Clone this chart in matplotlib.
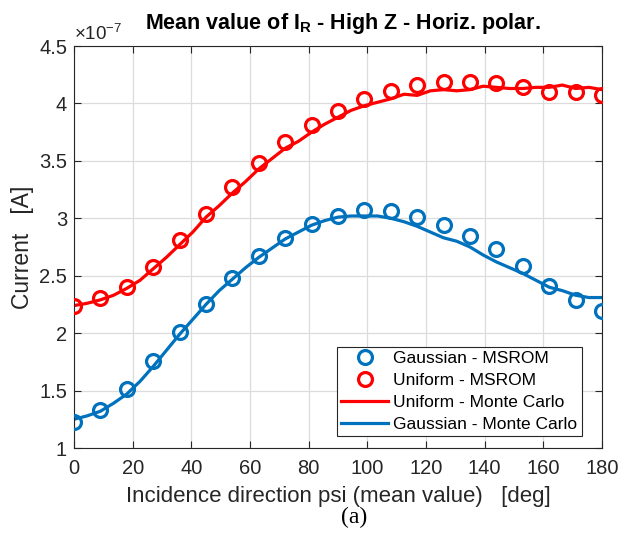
import numpy as np
import matplotlib
matplotlib.use("Agg")
import matplotlib.pyplot as plt
from matplotlib.ticker import FuncFormatter

# MSROM estimates, every 9 degrees
psi_msrom = np.arange(0, 181, 9)
gauss_msrom = np.array([1.23, 1.33, 1.51, 1.76, 2.01, 2.25, 2.48, 2.67, 2.83, 2.95, 3.02,
                        3.07, 3.06, 3.01, 2.94, 2.85, 2.73, 2.585, 2.41, 2.29, 2.19]) * 1e-7
unif_msrom = np.array([2.24, 2.31, 2.40, 2.58, 2.81, 3.04, 3.27, 3.48, 3.66, 3.81, 3.93,
                       4.04, 4.11, 4.16, 4.19, 4.19, 4.18, 4.14, 4.10, 4.10, 4.07]) * 1e-7

# Monte Carlo reference, every 4.5 degrees
psi_mc = np.arange(0, 180.1, 4.5)
unif_mc = np.array([2.24, 2.26, 2.29, 2.33, 2.39, 2.46, 2.56, 2.66, 2.77, 2.88, 3.01,
                    3.11, 3.22, 3.32, 3.43, 3.52, 3.61, 3.67, 3.75, 3.82, 3.88,
                    3.94, 3.98, 4.01, 4.04, 4.08, 4.07, 4.11, 4.12, 4.11, 4.12,
                    4.15, 4.14, 4.13, 4.13, 4.14, 4.14, 4.16, 4.13, 4.14, 4.12]) * 1e-7
gauss_mc = np.array([1.25, 1.28, 1.32, 1.39, 1.47, 1.58, 1.71, 1.85, 1.99, 2.12, 2.25,
                     2.37, 2.47, 2.57, 2.66, 2.74, 2.82, 2.88, 2.94, 2.98, 3.01,
                     3.02, 3.02, 3.02, 3.00, 2.97, 2.93, 2.88, 2.83, 2.80, 2.75,
                     2.68, 2.62, 2.57, 2.52, 2.46, 2.40, 2.37, 2.33, 2.31, 2.31]) * 1e-7

x_ticks = np.arange(0, 181, 20)
y_ticks = np.arange(1.0, 4.51, 0.5) * 1e-7

BLUE = "#0072BD"
RED = "#FF0000"
INK = "#262626"

plt.rcParams["font.family"] = ["Liberation Sans", "DejaVu Sans"]
plt.rcParams["mathtext.fontset"] = "custom"
plt.rcParams["mathtext.rm"] = "Liberation Sans"
plt.rcParams["mathtext.bf"] = "Liberation Sans:bold"

fig = plt.figure(figsize=(6.19, 5.39), dpi=100)
ax = fig.add_axes([74 / 619, 1 - 448 / 539, 528 / 619, 402 / 539])

h_g, = ax.plot(psi_msrom, gauss_msrom, linestyle="none", marker="o", markersize=10,
               markerfacecolor="none", markeredgecolor=BLUE, markeredgewidth=2.3,
               label="Gaussian - MSROM", zorder=3)
h_u, = ax.plot(psi_msrom, unif_msrom, linestyle="none", marker="o", markersize=10,
               markerfacecolor="none", markeredgecolor=RED, markeredgewidth=2.3,
               label="Uniform - MSROM", zorder=3)
h_umc, = ax.plot(psi_mc, unif_mc, color=RED, linewidth=2.3,
                 label="Uniform - Monte Carlo", zorder=2)
h_gmc, = ax.plot(psi_mc, gauss_mc, color=BLUE, linewidth=2.3,
                 label="Gaussian - Monte Carlo", zorder=2)

ax.set_xlim(0, 180)
ax.set_ylim(1e-7, 4.5e-7)
ax.set_xticks(x_ticks)
ax.set_yticks(y_ticks)
ax.yaxis.set_major_formatter(FuncFormatter(lambda v, _: f"{v * 1e7:g}"))
ax.grid(True, color="#dcdcdc", linewidth=0.9)
ax.set_axisbelow(True)
ax.tick_params(direction="in", top=True, right=True, length=5, width=0.8,
               labelsize=14.5, colors=INK)
ax.tick_params(axis="x", pad=8)
ax.tick_params(axis="y", pad=5)
for s in ax.spines.values():
    s.set_color(INK)
    s.set_linewidth(0.8)

ax.text(0.0, 1.004, r"$\times10^{-7}$", transform=ax.transAxes, fontsize=13.5,
        color=INK, ha="left", va="bottom")

ax.set_title(r"Mean value of I$_\mathbf{R}$ - High Z - Horiz. polar.",
             fontsize=15.5, fontweight="bold", pad=12, x=0.51)
ax.set_xlabel("Incidence direction psi (mean value)   [deg]", fontsize=16,
              color=INK, labelpad=6)
ax.set_ylabel("Current   [A]", fontsize=16.5, color=INK)
ax.yaxis.set_label_coords(-52 / 528, 0.5)
ax.yaxis.label.set_va("center")

leg = ax.legend(handles=[h_g, h_u, h_umc, h_gmc], loc="lower right",
                bbox_to_anchor=(0.962, 0.03), fontsize=12.5, frameon=True,
                fancybox=False, edgecolor=INK, framealpha=1,
                handlelength=2.7, borderpad=0.25, labelspacing=0.38,
                handletextpad=0.3, borderaxespad=0)
leg.get_frame().set_linewidth(0.8)

fig.text(0.572, 0.04, "(a)", fontsize=17, family=["Liberation Serif", "DejaVu Serif"],
         ha="center", va="center")

fig.savefig("out.png", dpi=100)
